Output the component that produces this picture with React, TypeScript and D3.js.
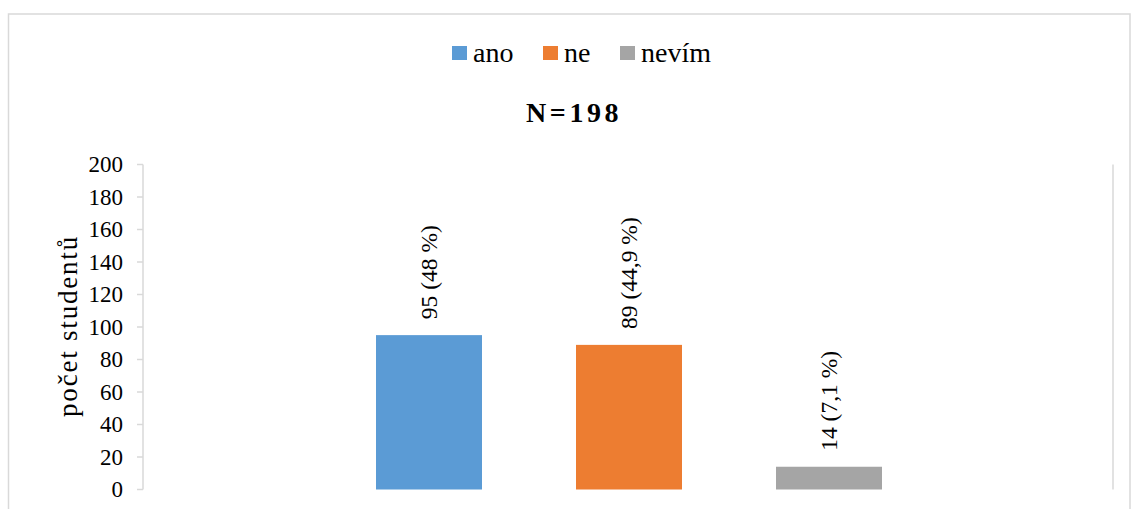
import React from "react";
import * as d3 from "d3";

const categories = ["ano", "ne", "nevím"];
const values = [95, 89, 14];
const valueLabels = ["95 (48 %)", "89 (44,9 %)", "14 (7,1 %)"];
const colors = ["#5b9bd5", "#ed7d31", "#a5a5a5"];
const yTicks = [0, 20, 40, 60, 80, 100, 120, 140, 160, 180, 200];
const title = "N=198";
const yLabel = "počet studentů";

const W = 1131;
const H = 509;
const plotLeft = 143;
const plotRight = 1113;
const plotTop = 164.5;
const plotBottom = 489.5;
const FONT = "'Liberation Serif', 'Times New Roman', Times, serif";
const ts = { fontFamily: FONT };

export default function App() {
  const y = d3.scaleLinear().domain([0, 200]).range([plotBottom, plotTop]);
  const x = d3
    .scaleBand<string>()
    .domain(categories)
    .range([329, 929])
    .paddingInner(0.47)
    .paddingOuter(0.235);
  const bw = x.bandwidth();

  const legendX = [452, 543, 620];

  return (
    <svg
      width={W}
      height={H}
      style={{ position: "absolute", left: 0, top: 0, background: "#fff", fontFamily: FONT }}
    >
      <rect x={8.5} y={14} width={1121.5} height={600} fill="#fff" stroke="#d9d9d9" strokeWidth={1.5} />

      {/* legend */}
      {categories.map((c, i) => (
        <g key={c}>
          <rect x={legendX[i]} y={46} width={15} height={14} fill={colors[i]} />
          <text x={legendX[i] + 21} y={61.5} fontSize={28} fill="#000" style={ts}>
            {c}
          </text>
        </g>
      ))}

      {/* title */}
      <text x={526} y={121.5} textAnchor="start" fontSize={28} fontWeight="bold" letterSpacing={3.6} fill="#000" style={ts}>
        {title}
      </text>

      {/* y axis */}
      <line x1={plotLeft} x2={plotLeft} y1={plotTop} y2={plotBottom} stroke="#d9d9d9" strokeWidth={1.5} />
      <line x1={plotRight} x2={plotRight} y1={plotTop} y2={plotBottom} stroke="#d9d9d9" strokeWidth={1.5} />
      {yTicks.map((t) => (
        <g key={t}>
          <line x1={plotLeft - 6} x2={plotLeft} y1={y(t)} y2={y(t)} stroke="#d9d9d9" strokeWidth={1.5} />
          <text x={123} y={y(t)} dy="0.34em" textAnchor="end" fontSize={23} fill="#000" style={ts}>
            {t}
          </text>
        </g>
      ))}
      <text
        transform={`translate(77, 326) rotate(-90)`}
        textAnchor="middle"
        fontSize={27}
        letterSpacing={1.8}
        fill="#000"
        style={ts}
      >
        {yLabel}
      </text>

      {/* bars */}
      {categories.map((c, i) => (
        <g key={c}>
          <rect x={x(c)!} y={y(values[i])} width={bw} height={plotBottom - y(values[i])} fill={colors[i]} />
          <text
            transform={`translate(${x(c)! + bw / 2 + 7.5}, ${y(values[i]) - 16}) rotate(-90)`}
            textAnchor="start"
            fontSize={23.5}
            fill="#000"
            style={ts}
          >
            {valueLabels[i]}
          </text>
        </g>
      ))}
    </svg>
  );
}
